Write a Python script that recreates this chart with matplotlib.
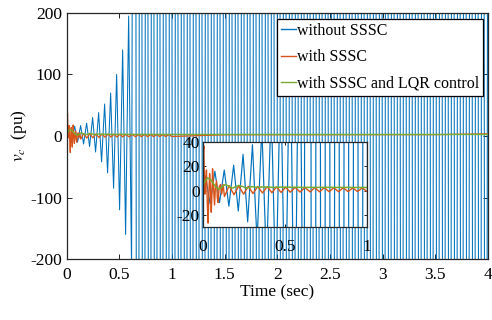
import numpy as np
import matplotlib
matplotlib.use('Agg')
from matplotlib import pyplot as plt

plt.rcParams['font.family'] = ['Liberation Serif', 'DejaVu Serif']
plt.rcParams['mathtext.fontset'] = 'stix'
plt.rcParams['axes.unicode_minus'] = False

# without SSSC: growing oscillation, peaks
blue_t = [0, 0.018, 0.046, 0.075, 0.103, 0.132, 0.160, 0.189, 0.217, 0.246,
          0.274, 0.303, 0.331, 0.360, 0.388, 0.417, 0.445, 0.474, 0.502,
          0.531, 0.559, 0.588, 0.616]
blue_v = [0, 12, -11, 16, -10, 17, -13, 21, -17, 30,
          -26, 38, -42, 52, -60, 70, -85, 100, -120,
          140, -160, 195, -220]
blue_half_period = 0.0285   # read from the spacing of the stripes
blue_offscale = 2000        # far beyond the +-200 limits after ~0.65 s

# with SSSC
red_t = [0, 0.004, 0.008, 0.011, 0.014, 0.019, 0.024, 0.029, 0.034, 0.038,
         0.043, 0.048, 0.053, 0.057, 0.061, 0.066, 0.073, 0.078, 0.085,
         0.090, 0.095, 0.101, 0.109, 0.116, 0.125, 0.133, 0.162, 0.191,
         0.220, 0.249, 0.278, 0.306, 0.335, 0.364, 0.393, 0.421, 0.449,
         0.477, 0.505, 0.532, 0.562, 0.592, 0.622, 0.653, 0.681, 0.710,
         0.739, 0.768, 0.797, 0.825, 0.854, 0.883, 0.912, 0.940, 0.969,
         0.998, 1.5, 3.5, 4.0]
red_v = [0, 30, 37, 12, -3, 8, 17, -10, -27, -5,
         14, 2, -18, -4, 18, 5, -12, 2, 8,
         -6, -10, 3, 5, -3, 5, -5, 4, -3.5,
         3.8, -3, 3.5, -2.5, 3.3, -2, 3.2, -1.8, 3.0,
         -1.6, 2.8, -1.4, 2.6, -1.3, 2.5, -1.2, 2.4, -1.1,
         2.4, -1.0, 2.3, -1.0, 2.3, -0.9, 2.2, -0.9, 2.2,
         -0.8, 2.0, 2.2, 3.5]

# with SSSC and LQR control
green_t = [0, 0.012, 0.03, 0.05, 0.075, 0.097, 0.118, 0.138, 0.16, 0.18,
           0.2, 0.22, 0.245, 0.27, 0.3, 0.33, 0.37, 0.42, 0.5, 0.6, 0.8,
           1.0, 4.0]
green_v = [2, 7, 10.5, 9, 4, 1, 3, 5, 3.5, 2,
           3, 4.2, 3.2, 2, 3.3, 2.6, 3, 2.6, 2.8, 2.6, 2.6,
           2.5, 2.5]

labels = ['without SSSC', 'with SSSC', 'with SSSC and LQR control']
colors = ['#0072BD', '#D95319', '#77AC30']

# extend the blue past the axis limits with the same stripe spacing
t_sat = np.arange(blue_t[-1] + blue_half_period, 4.05, blue_half_period)
v_sat = [blue_offscale * (1 if i % 2 == 0 else -1) for i in range(len(t_sat))]
bt = list(blue_t) + list(t_sat)
bv = list(blue_v) + v_sat

fig = plt.figure(figsize=(4.92, 3.2), dpi=100)
ax = fig.add_axes([0.1356, 0.1906, 0.8563, 0.7688])
ax.plot(bt, bv, color=colors[0], lw=0.75, label=labels[0])
ax.plot(red_t, red_v, color=colors[1], lw=0.9, label=labels[1])
ax.plot(green_t, green_v, color=colors[2], lw=1.0, label=labels[2])
ax.set_xlim(0, 4)
ax.set_ylim(-200, 200)
ax.set_xticks([0, 0.5, 1, 1.5, 2, 2.5, 3, 3.5, 4])
ax.set_xticklabels(['0', '0.5', '1', '1.5', '2', '2.5', '3', '3.5', '4'])
ax.set_yticks([-200, -100, 0, 100, 200])
ax.tick_params(direction='in', top=True, right=True, length=3.5, width=0.6,
               labelsize=12.5)
ax.tick_params(axis='x', pad=6)
ax.tick_params(axis='y', pad=3.5)
for s in ax.spines.values():
    s.set_linewidth(0.9)
    s.set_color('#262626')
ax.set_xlabel('Time (sec)', fontsize=12.5, labelpad=1)
ax.set_ylabel(r'$v_c$  (pu)', fontsize=12.5, labelpad=1)

leg = ax.legend(loc='upper right', bbox_to_anchor=(0.988, 0.976),
                borderaxespad=0, fontsize=11.5, handlelength=0.95,
                handletextpad=0.05, labelspacing=0.65, borderpad=0.25,
                fancybox=False, framealpha=1, edgecolor='black')
leg.get_frame().set_linewidth(0.9)
for h in leg.get_lines():
    h.set_linewidth(1.0)

# inset
ins = fig.add_axes([0.4116, 0.2916, 0.335, 0.2638])
ins.plot(bt, bv, color=colors[0], lw=0.85)
ins.plot(red_t, red_v, color=colors[1], lw=1.0)
ins.plot(green_t, green_v, color=colors[2], lw=1.1)
ins.set_xlim(0, 1)
ins.set_ylim(-30, 40)
ins.set_xticks([0, 0.5, 1])
ins.set_xticklabels(['0', '0.5', '1'])
ins.set_yticks([-20, 0, 20, 40])
ins.tick_params(direction='in', top=True, right=True, length=2.5, width=0.6,
                labelsize=12.5)
ins.tick_params(axis='x', pad=9)
ins.tick_params(axis='y', pad=2)
for s in ins.spines.values():
    s.set_linewidth(0.9)
    s.set_color('#262626')

fig.savefig('out.png', dpi=100)
